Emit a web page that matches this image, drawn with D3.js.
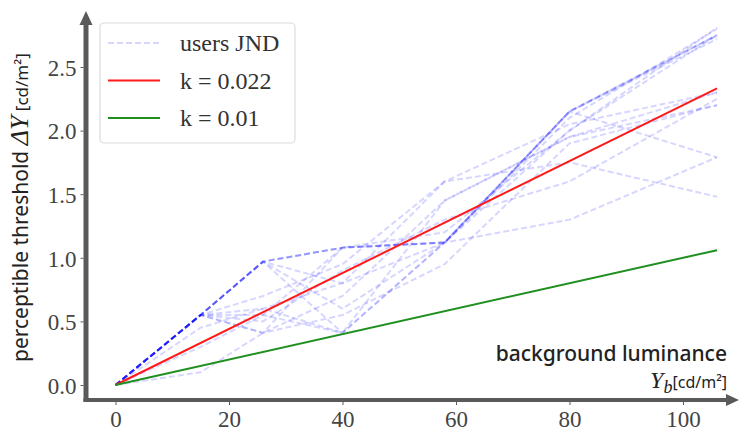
<!DOCTYPE html>
<html>
<head>
<meta charset="utf-8">
<script src="https://cdn.jsdelivr.net/npm/d3@7"></script>
<style>
  html, body { margin: 0; padding: 0; background: #fff; }
  svg { display: block; }
</style>
</head>
<body>
<svg id="chart" width="739" height="434"></svg>
<script>
// ---- data ----
const luminanceLevels = [0, 15, 26, 40, 58, 80, 106];
const usersJND = [
  [0, 0.55, 0.97, 1.08, 1.12, 2.15, 2.75],
  [0, 0.55, 0.97, 1.08, 1.12, 2.15, 2.75],
  [0, 0.55, 0.97, 1.08, 1.12, 2.10, 2.80],
  [0, 0.55, 0.97, 0.41, 1.12, 2.15, 2.75],
  [0, 0.55, 0.41, 1.08, 1.12, 2.15, 2.72],
  [0, 0.55, 0.55, 0.41, 1.12, 1.30, 1.79],
  [0, 0.55, 0.60, 0.80, 1.60, 2.05, 2.30],
  [0, 0.10, 0.41, 0.70, 1.45, 1.95, 2.20],
  [0, 0.55, 0.97, 0.60, 1.12, 2.15, 1.79],
  [0, 0.55, 0.70, 0.95, 1.60, 1.75, 1.48],
  [0, 0.30, 0.55, 1.08, 1.20, 2.00, 2.81],
  [0, 0.55, 0.41, 0.55, 0.95, 1.90, 2.20],
  [0, 0.45, 0.60, 0.41, 1.45, 1.95, 2.30],
  [0, 0.55, 0.97, 0.80, 1.12, 2.00, 2.75],
  [0, 0.55, 0.50, 0.90, 1.30, 1.60, 2.25]
];
const modelSlopes = [0.022, 0.01];
const modelColors = ["#ff1a1a", "#1f8f1f"];
const legendLabels = ["users JND", "k = 0.022", "k = 0.01"];
const xTicks = [0, 20, 40, 60, 80, 100];
const yTicks = [0.0, 0.5, 1.0, 1.5, 2.0, 2.5];

// ---- scales ----
const svg = d3.select("#chart");
const x = d3.scaleLinear().domain([0, 100]).range([115.5, 683]);
const y = d3.scaleLinear().domain([0, 2.5]).range([385, 67]);
const axisColor = "#5a5a5a";
const tickFont = "'Liberation Serif', 'Times New Roman', serif";
const sansFont = "'Noto Sans', 'Open Sans', sans-serif";

const line = d3.line().x(d => x(d[0])).y(d => y(d[1]));

// user JND lines
svg.append("g").selectAll("path").data(usersJND).join("path")
  .attr("d", s => line(s.map((v, i) => [luminanceLevels[i], v])))
  .attr("fill", "none")
  .attr("stroke", "rgba(0,0,255,0.16)")
  .attr("stroke-width", 2)
  .attr("stroke-dasharray", "6,3");

// model lines
const xEnd = luminanceLevels[luminanceLevels.length - 1];
svg.append("g").selectAll("path").data(modelSlopes).join("path")
  .attr("d", (k) => line([[0, 0], [xEnd, k * xEnd]]))
  .attr("fill", "none")
  .attr("stroke", (k, i) => modelColors[i])
  .attr("stroke-width", 2);

// ---- axes (custom spines with arrows) ----
const yAxisX = 86, xAxisY = 400;
svg.append("line").attr("x1", yAxisX).attr("x2", yAxisX).attr("y1", xAxisY + 2).attr("y2", 22)
  .attr("stroke", axisColor).attr("stroke-width", 5);
svg.append("path").attr("d", `M${yAxisX},11 L${yAxisX - 6.5},25 L${yAxisX + 6.5},25 Z`).attr("fill", axisColor);
svg.append("line").attr("x1", yAxisX - 2.5).attr("x2", 728).attr("y1", xAxisY).attr("y2", xAxisY)
  .attr("stroke", axisColor).attr("stroke-width", 4);
svg.append("path").attr("d", `M739,${xAxisY} L726,${xAxisY - 6} L726,${xAxisY + 6} Z`).attr("fill", axisColor);

// x ticks via d3 axis
const gx = svg.append("g").attr("transform", `translate(0,${xAxisY + 2})`)
  .call(d3.axisBottom(x).tickValues(xTicks).tickSize(3).tickPadding(6).tickFormat(d3.format("d")));
gx.select(".domain").remove();
gx.selectAll(".tick line").attr("stroke", axisColor);
gx.selectAll(".tick text").attr("font-family", tickFont).attr("font-size", 23).attr("fill", "#444");

// y ticks
const gy = svg.append("g").attr("transform", `translate(${yAxisX - 2.5},0)`)
  .call(d3.axisLeft(y).tickValues(yTicks).tickSize(3).tickPadding(4).tickFormat(d3.format(".1f")));
gy.select(".domain").remove();
gy.selectAll(".tick line").attr("stroke", axisColor);
gy.selectAll(".tick text").attr("font-family", tickFont).attr("font-size", 23).attr("fill", "#444")
  .attr("dy", "0.36em");

// ---- legend ----
const lg = svg.append("g");
lg.append("rect").attr("x", 100).attr("y", 23).attr("width", 195).attr("height", 120)
  .attr("rx", 4).attr("fill", "rgba(255,255,255,0.85)").attr("stroke", "#dcdcdc").attr("stroke-width", 1.2);
const legendStyles = [
  { stroke: "rgba(0,0,255,0.16)", dash: "6,3" },
  { stroke: modelColors[0], dash: null },
  { stroke: modelColors[1], dash: null }
];
legendLabels.forEach((lab, i) => {
  const cy = 43 + i * 37.5;
  lg.append("line").attr("x1", 108).attr("x2", 160).attr("y1", cy).attr("y2", cy)
    .attr("stroke", legendStyles[i].stroke).attr("stroke-width", 2)
    .attr("stroke-dasharray", legendStyles[i].dash);
  lg.append("text").attr("x", 180).attr("y", cy + 8).text(lab)
    .attr("font-family", tickFont).attr("font-size", 24).attr("fill", "#333");
});

// ---- axis titles ----
const yl = svg.append("text").attr("transform", "rotate(-90)").attr("x", -362).attr("y", 28)
  .attr("fill", "#222");
yl.append("tspan").text("perceptible threshold ").attr("font-family", sansFont).attr("font-size", 21);
yl.append("tspan").text("ΔY").attr("font-family", tickFont).attr("font-style", "italic").attr("font-size", 26);
yl.append("tspan").text(" [cd/m²]").attr("font-family", sansFont).attr("font-size", 17);

svg.append("text").attr("x", 727).attr("y", 361).attr("text-anchor", "end")
  .attr("font-family", sansFont).attr("font-size", 21).attr("font-weight", 500).attr("fill", "#222")
  .text("background luminance");

const xu = svg.append("text").attr("x", 727).attr("y", 388).attr("text-anchor", "end").attr("fill", "#222");
xu.append("tspan").text("Y").attr("font-family", tickFont).attr("font-style", "italic").attr("font-size", 24);
xu.append("tspan").text("b").attr("font-family", tickFont).attr("font-style", "italic").attr("font-size", 18).attr("dy", 5);
xu.append("tspan").text("[cd/m²]").attr("font-family", sansFont).attr("font-size", 16).attr("dy", -5);
</script>
</body>
</html>
